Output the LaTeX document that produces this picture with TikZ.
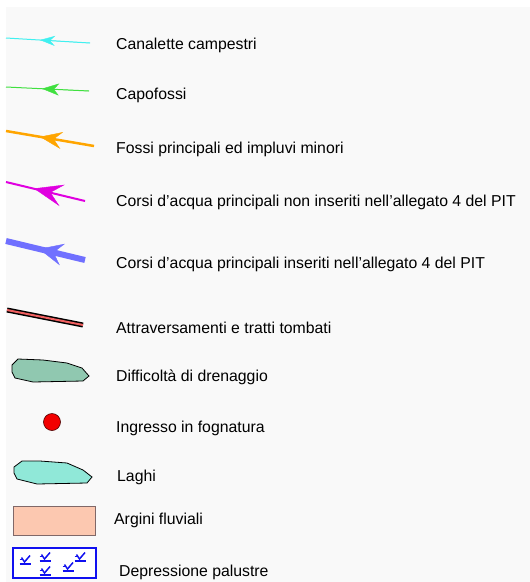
\documentclass[tikz,border=0pt]{standalone}
\usepackage{fontspec}
\setmainfont{Liberation Sans}
\usetikzlibrary{arrows.meta}
\definecolor{bgc}{HTML}{F9F9F9}
\definecolor{cyanc}{HTML}{40F0F0}
\definecolor{greenc}{HTML}{40E040}
\definecolor{orangec}{HTML}{FFA500}
\definecolor{magc}{HTML}{E000E0}
\definecolor{bluec}{HTML}{7070FF}
\definecolor{redc}{HTML}{F06060}
\definecolor{diffc}{HTML}{90C8B0}
\definecolor{lakec}{HTML}{90E8D8}
\definecolor{arginc}{HTML}{FCC8B0}
\definecolor{argind}{HTML}{806868}
\definecolor{marshc}{HTML}{1010F0}
\begin{document}
\begin{tikzpicture}[x=1pt,y=-1pt,
  lbl/.style={anchor=base west,inner sep=0pt,font=\fontsize{15.8}{18}\selectfont},
  marsh/.pic={\draw[marshc,line width=1.5pt] (-5.5,0)--(5.5,0);
              \draw[marshc,line width=1.5pt] (-3.5,-6.5)--(-0.5,-2)--(5,-8.5);
              \draw[marshc,line width=1.3pt] (-5.5,-4.5)--(-2.5,-4.5);}]
\useasboundingbox (0,0) rectangle (530,582);
\fill[white] (0,0) rectangle (530,582);
\fill[bgc] (6,7) rectangle (530,582);

% arrows
\coordinate (cL) at (6,38); \coordinate (cM) at (40,40); \coordinate (cR) at (90,43);
\draw[cyanc,line width=1pt] (cL) -- (cR);
\draw[cyanc,line width=0.4pt,-{Stealth[length=15pt,width=10pt,inset=5pt]}] (cR) -- (cM);
\coordinate (gL) at (6,87); \coordinate (gM) at (42,88.7); \coordinate (gR) at (89,91);
\draw[greenc,line width=1pt] (gL) -- (gR);
\draw[greenc,line width=0.4pt,-{Stealth[length=17pt,width=12pt,inset=5pt]}] (gR) -- (gM);
\coordinate (oL) at (6,131); \coordinate (oM) at (40,136.8); \coordinate (oR) at (94,146);
\draw[orangec,line width=2.5pt] (oL) -- (oR);
\draw[orangec,line width=0.4pt,-{Stealth[length=22pt,width=17pt,inset=8pt]}] (oR) -- (oM);
\coordinate (mL) at (6,182); \coordinate (mM) at (34,188.5); \coordinate (mR) at (85,201);
\draw[magc,line width=2pt] (mL) -- (mR);
\draw[magc,line width=0.4pt,-{Stealth[length=29pt,width=22pt,inset=12pt]}] (mR) -- (mM);
\coordinate (bL) at (6,241); \coordinate (bM) at (39,248.9); \coordinate (bR) at (85,260);
\draw[bluec,line width=6pt] (bL) -- (bR);
\draw[bluec,line width=0.4pt,-{Stealth[length=24pt,width=22pt,inset=9pt]}] (bR) -- (bM);

% attraversamenti
\coordinate (aL) at (7,310); \coordinate (aR) at (83,325);
\draw[black,line width=5pt] (aL) -- (aR);
\draw[redc,line width=2pt] (aL) -- (aR);

% difficolta
\draw[black,line width=0.8pt,fill=diffc] (12,365) -- (18,359) -- (43,360) -- (67,363) -- (82,368) -- (89,376) -- (83,381) -- (33,382) -- (15,378) -- (12,372) -- cycle;

% ingresso
\node[circle,draw=black!70!red,line width=0.6pt,fill=red!95!black,minimum size=17pt,inner sep=0pt] (ing) at (52,422) {};

% laghi
\draw[black,line width=0.8pt,fill=lakec] (14,467) -- (22,461) -- (40,461) -- (67,463) -- (83,470) -- (92,477) -- (87,483) -- (37,484) -- (17,479) -- (14,473) -- cycle;

% argini
\draw[argind,line width=0.9pt,fill=arginc] (13,506) rectangle (95,535);

% depressione
\draw[marshc,line width=2pt,fill=white] (13,548) rectangle (96,578);
\pic at (25,564) {marsh};
\pic at (45,561) {marsh};
\pic at (45,575) {marsh};
\pic at (68,571) {marsh};
\pic at (80,561) {marsh};

% labels
\node[lbl] (t1) at (116,49) {Canalette campestri};
\node[lbl] (t2) at (116,99) {Capofossi};
\node[lbl] (t3) at (116,153) {Fossi principali ed impluvi minori};
\node[lbl] (t4) at (116,206) {Corsi d{\char39}acqua principali non inseriti nell{\char39}allegato 4 del PIT};
\node[lbl] (t5) at (116,268) {Corsi d{\char39}acqua principali inseriti nell{\char39}allegato 4 del PIT};
\node[lbl] (t6) at (116,333) {Attraversamenti e tratti tombati};
\node[lbl] (t7) at (116,381) {Difficoltà di drenaggio};
\node[lbl] (t8) at (116,432) {Ingresso in fognatura};
\node[lbl] (t9) at (117,481) {Laghi};
\node[lbl] (t10) at (114,524) {Argini fluviali};
\node[lbl] (t11) at (119,576) {Depressione palustre};
\end{tikzpicture}
\end{document}
